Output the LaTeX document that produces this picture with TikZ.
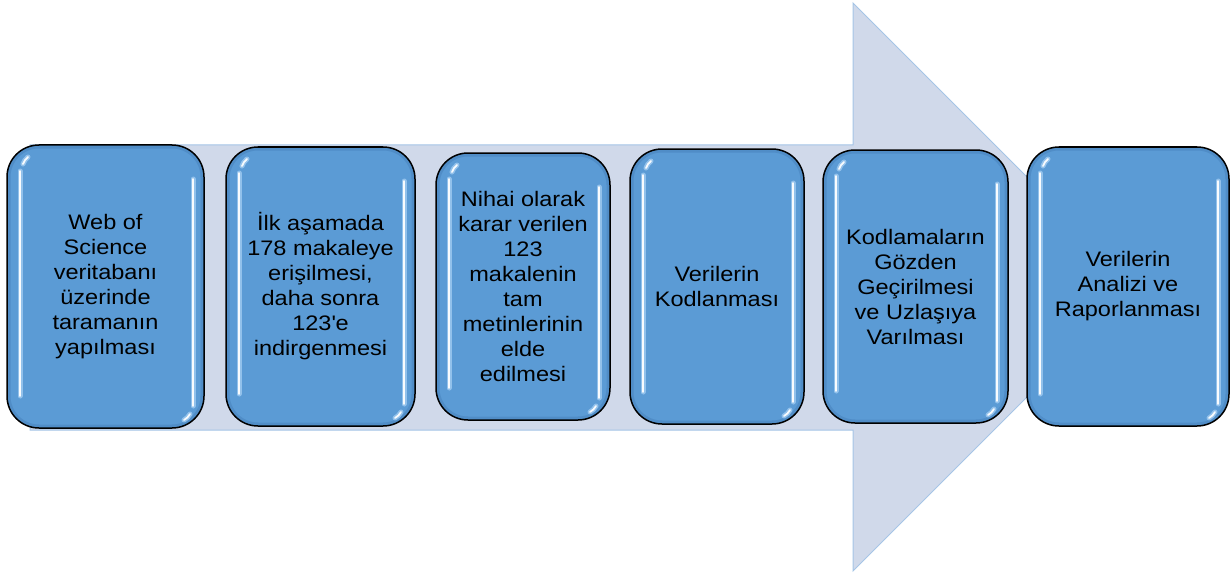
\documentclass[tikz,border=0pt]{standalone}
\usepackage{fontspec}
\setmainfont{Liberation Sans}[FakeStretch=1.12]
\usetikzlibrary{positioning}
\definecolor{boxblue}{RGB}{91,155,213}
\definecolor{boxrim}{RGB}{60,115,175}
\definecolor{glow}{RGB}{170,210,245}
\definecolor{arrowfill}{RGB}{208,217,234}
\definecolor{arrowline}{RGB}{165,197,230}
\tikzset{
  stage/.style={draw=black, line width=1.5pt, fill=boxblue,
    rounded corners=32pt, align=center, inner sep=0pt,
    font=\fontsize{21}{25}\selectfont,
    path picture={
      % darker rim inside the border
      \draw[boxrim, opacity=0.35, line width=7pt, rounded corners=32pt]
        (path picture bounding box.north west)
        rectangle (path picture bounding box.south east);
      % glossy highlights
      \foreach \w/\c/\o in {5pt/glow/0.7, 1.8pt/white/0.95} {
        \draw[\c, opacity=\o, line width=\w, line cap=round]
          ([shift={(13pt,-26pt)}]path picture bounding box.north west)
          -- ([shift={(13pt,32pt)}]path picture bounding box.south west);
        \draw[\c, opacity=\o, line width=\w, line cap=round]
          ([shift={(-11pt,-34pt)}]path picture bounding box.north east)
          -- ([shift={(-11pt,22pt)}]path picture bounding box.south east);
        \draw[\c, opacity=\o, line width=\w, line cap=round]
          ([shift={(16pt,-19pt)}]path picture bounding box.north west)
          to[bend left=15] ([shift={(21pt,-12pt)}]path picture bounding box.north west);
        \draw[\c, opacity=\o, line width=\w, line cap=round]
          ([shift={(-14pt,14pt)}]path picture bounding box.south east)
          to[bend left=15] ([shift={(-20pt,8pt)}]path picture bounding box.south east);
      }
    }},
}

\begin{document}
\begin{tikzpicture}[x=1pt, y=-1pt]
\useasboundingbox (0,0) rectangle (1231,575);
% background arrow
\filldraw[fill=arrowfill, draw=arrowline, line width=1pt]
  (30,145) -- (853,145) -- (853,3) -- (1137,287)
  -- (853,571) -- (853,430) -- (30,430) -- cycle;

\node[stage, minimum width=197pt, minimum height=283pt] (s1) at (105.5,286.5)
  {Web of\\Science\\veritabanı\\üzerinde\\taramanın\\yapılması};
\node[stage, minimum width=189pt, minimum height=279pt, right=20.5pt of s1] (s2)
  {İlk aşamada\\178 makaleye\\erişilmesi,\\daha sonra\\123\textquotesingle e\\indirgenmesi};
\node[stage, minimum width=174pt, minimum height=267pt, right=19.5pt of s2] (s3)
  {Nihai olarak\\karar verilen\\123\\makalenin\\tam\\metinlerinin\\elde\\edilmesi};
\node[stage, minimum width=174pt, minimum height=275pt, right=18.5pt of s3] (s4)
  {Verilerin\\Kodlanması};
\node[stage, minimum width=185pt, minimum height=273pt, right=17.5pt of s4] (s5)
  {Kodlamaların\\Gözden\\Geçirilmesi\\ve Uzlaşıya\\Varılması};
\node[stage, minimum width=202pt, minimum height=279pt, right=17.5pt of s5] (s6)
  {Verilerin\\Analizi ve\\Raporlanması};
\end{tikzpicture}
\end{document}
